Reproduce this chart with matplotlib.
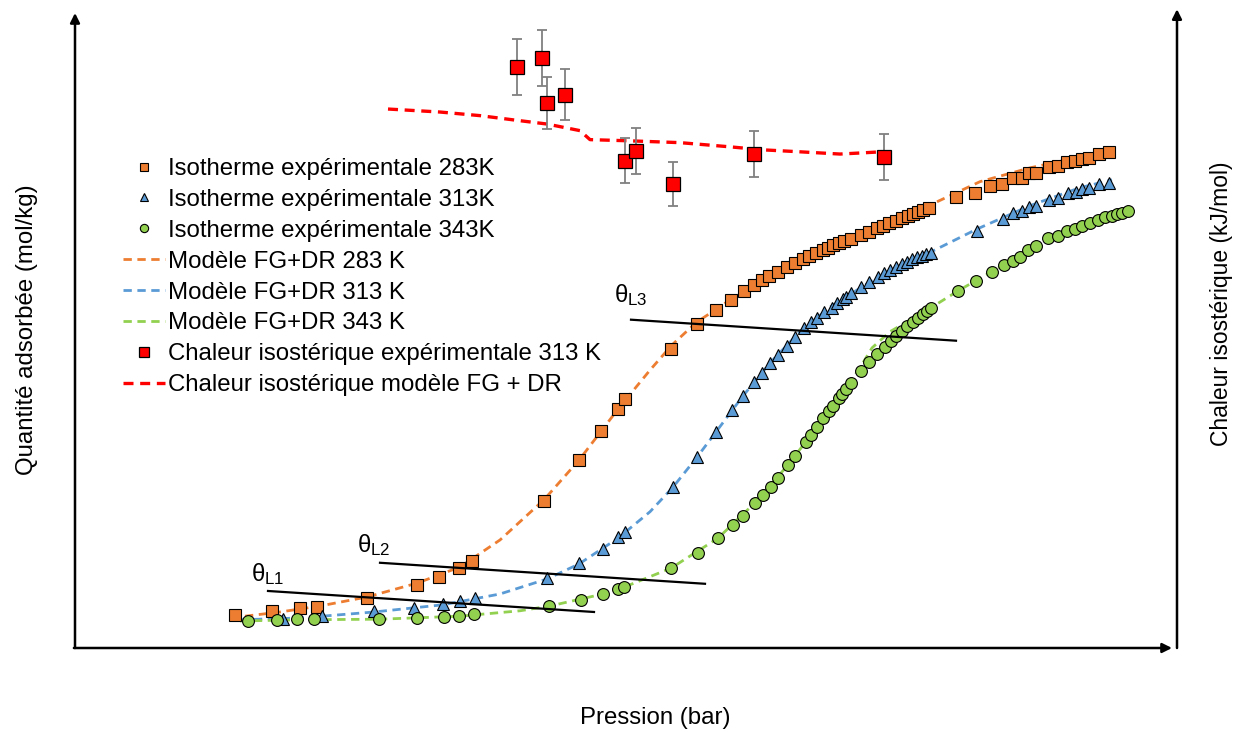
import matplotlib
matplotlib.use('Agg')
import matplotlib.pyplot as plt
from matplotlib.lines import Line2D

plt.rcParams['font.family'] = ['Liberation Sans', 'DejaVu Sans']
plt.rcParams['mathtext.fontset'] = 'custom'
plt.rcParams['mathtext.rm'] = 'Liberation Sans'
plt.rcParams['mathtext.it'] = 'Liberation Sans:italic'

# ---- data (arbitrary units, no tick values shown) ----
# experimental isotherms
p_283 = [16.0, 19.7, 22.5, 24.2, 29.2, 34.2, 36.4, 38.4, 39.7, 46.9, 50.4, 52.6, 54.3, 55.0,
         59.6, 62.2, 64.1, 65.6, 66.9, 67.9, 68.7, 69.4, 70.3, 71.2, 72.0, 72.8, 73.4, 74.1,
         74.8, 75.3, 75.8, 76.4, 76.9, 77.6, 78.6, 79.4, 80.2, 80.8, 81.4, 82.1, 82.7, 83.3,
         83.8, 84.3, 84.8, 85.4, 88.1, 90.0, 91.5, 92.7, 93.8, 94.7, 95.4, 96.1, 97.4, 98.3,
         99.2, 100.0, 100.7, 101.4, 102.4, 103.4]
q_283 = [5.5, 6.2, 6.7, 6.8, 8.3, 10.5, 11.8, 13.3, 14.5, 24.5, 31.3, 36.2, 39.8, 41.5,
         49.8, 54.0, 56.3, 58.0, 59.5, 60.5, 61.3, 62.0, 62.7, 63.5, 64.2, 64.8, 65.3, 65.8,
         66.3, 66.7, 67.2, 67.5, 67.8, 68.2, 68.8, 69.3, 70.0, 70.3, 70.8, 71.2, 71.7, 72.0,
         72.3, 72.7, 73.0, 73.3, 75.2, 75.8, 77.0, 77.3, 78.3, 78.3, 79.2, 79.2, 80.2, 80.3,
         81.0, 81.2, 81.5, 81.7, 82.3, 82.7]

p_313 = [20.8, 24.7, 29.9, 33.9, 36.8, 38.5, 40.0, 47.2, 50.4, 52.8, 54.3, 55.0, 59.8, 62.2,
         64.1, 65.7, 66.8, 67.9, 68.7, 69.5, 70.3, 71.2, 72.0, 72.9, 73.6, 74.2, 74.9, 75.7,
         76.2, 76.8, 77.1, 77.6, 78.6, 79.4, 80.3, 80.9, 81.5, 82.1, 82.7, 83.2, 83.7, 84.2,
         84.7, 85.1, 85.6, 90.2, 92.8, 93.8, 94.7, 95.4, 96.1, 97.4, 98.3, 99.3, 100.1, 100.7,
         101.4, 102.4, 103.4]
q_313 = [4.8, 5.3, 6.2, 6.7, 7.3, 7.8, 8.3, 11.7, 14.2, 16.5, 18.5, 19.3, 26.8, 31.8,
         36.0, 39.7, 42.0, 44.3, 45.8, 47.5, 48.8, 50.3, 51.8, 53.3, 54.3, 55.0, 56.0, 56.7,
         57.5, 58.2, 58.5, 59.2, 60.2, 61.0, 61.8, 62.5, 63.0, 63.5, 64.0, 64.3, 64.8, 65.2,
         65.3, 65.7, 65.8, 69.5, 71.5, 72.5, 72.8, 73.5, 73.7, 74.7, 75.0, 75.8, 76.0, 76.5,
         76.7, 77.3, 77.5]

p_343 = [17.3, 20.2, 22.2, 23.9, 30.4, 34.2, 36.9, 38.4, 39.9, 47.4, 50.6, 52.8, 54.3, 54.9,
         59.6, 62.3, 64.3, 65.8, 66.8, 68.0, 68.8, 69.6, 70.3, 71.3, 72.0, 73.1, 73.6, 74.2,
         74.8, 75.4, 75.8, 76.4, 76.7, 77.1, 77.6, 78.6, 79.4, 80.2, 81.0, 81.6, 82.1, 82.7,
         83.2, 83.8, 84.3, 84.8, 85.2, 85.6, 88.3, 90.1, 91.7, 92.9, 93.8, 94.5, 95.3, 96.1,
         97.3, 98.3, 99.2, 100.0, 100.7, 101.5, 102.3, 103.0, 103.7, 104.2, 104.7, 105.3]
q_343 = [4.5, 4.7, 4.8, 4.8, 4.8, 5.0, 5.2, 5.3, 5.7, 7.0, 8.0, 9.0, 9.8, 10.2,
         13.3, 15.8, 18.3, 20.5, 22.0, 24.2, 25.5, 26.8, 28.3, 30.5, 32.0, 34.3, 35.5, 36.8,
         38.3, 39.5, 40.3, 41.7, 42.3, 43.2, 44.2, 46.2, 47.7, 49.0, 50.2, 51.2, 52.0, 52.8,
         53.7, 54.3, 55.0, 55.7, 56.2, 56.7, 59.5, 61.2, 62.7, 63.8, 64.5, 65.2, 66.3, 67.0,
         68.3, 68.7, 69.5, 69.8, 70.3, 70.8, 71.3, 71.8, 72.0, 72.3, 72.5, 72.8]

# FG+DR model curves
pm_283 = [17.0, 20.5, 24.5, 29.2, 34.2, 38.5, 42.5, 46.9, 50.4, 54.3, 57.5, 59.7, 62.1,
          65.5, 70.5, 75.5, 80.5, 85.5, 90.5, 95.5, 100.5, 103.7]
qm_283 = [5.3, 6.0, 7.0, 8.5, 10.8, 13.5, 18.0, 24.7, 31.3, 39.8, 46.3, 50.5, 54.2,
          58.0, 62.8, 67.0, 70.5, 73.8, 77.7, 80.0, 81.8, 83.0]

pm_313 = [16.5, 22.5, 29.9, 36.8, 42.5, 47.2, 50.4, 54.3, 57.5, 59.8, 62.2, 64.1, 66.8,
          69.5, 72.5, 75.5, 79.5, 85.6, 90.2, 95.5, 100.5, 103.7]
qm_313 = [4.7, 5.0, 6.0, 7.2, 9.0, 11.5, 14.0, 18.3, 22.7, 26.8, 31.8, 36.0, 42.0,
          47.5, 52.7, 56.8, 61.0, 66.0, 69.8, 73.7, 76.7, 78.0]

pm_343 = [16.5, 22.5, 30.5, 38.5, 44.5, 47.5, 52.8, 55.0, 59.6, 64.3, 68.0, 71.3, 74.2,
          76.7, 78.5, 79.7, 81.5, 85.6, 88.3, 92.5, 97.5, 102.5, 105.7]
qm_343 = [4.5, 4.7, 4.8, 5.3, 6.2, 7.0, 9.0, 10.2, 13.3, 18.3, 24.2, 30.5, 36.8,
          42.3, 46.7, 50.0, 52.7, 56.7, 59.5, 63.5, 67.8, 71.3, 73.3]

# isosteric heat (right axis)
p_heat = [44.2, 46.7, 47.2, 49.0, 55.0, 56.1, 59.8, 67.9, 80.9]
h_heat = [96.8, 98.3, 90.8, 92.2, 81.2, 82.8, 77.3, 82.3, 81.8]
h_err = [4.6, 4.7, 4.3, 4.3, 3.8, 3.8, 3.6, 3.8, 3.8]

pm_heat = [31.3, 36.5, 40.5, 43.8, 47.2, 50.5, 51.5, 55.5, 60.5, 65.5, 68.8, 72.2,
           76.5, 78.8, 80.9]
hm_heat = [89.8, 89.3, 88.7, 88.0, 87.3, 86.2, 84.7, 84.5, 84.2, 83.5, 83.0, 82.7,
           82.3, 82.5, 82.7]

# theta_L tangent lines (start / end)
theta_labels = ['L1', 'L2', 'L3']
theta_x = [[19.3, 51.9], [30.5, 63.0], [55.6, 88.1]]
theta_y = [[9.5, 6.0], [14.2, 10.7], [54.7, 51.2]]
theta_txt = [(17.6, 11.2), (28.2, 15.9), (53.9, 57.6)]

C_ORANGE = '#ED7D31'
C_BLUE = '#5B9BD5'
C_GREEN = '#92D050'
C_RED = '#FF0000'
FS = 17.3

fig = plt.figure(figsize=(12.43, 7.32), dpi=100)
W, H = 1243, 732
ax = fig.add_axes([75 / W, 1 - 648 / H, (1177 - 75) / W, (648 - 13) / H])
ax.set_xlim(0, 110.2)
ax.set_ylim(0, 105.8)
ax2 = ax.twinx()
ax2.set_ylim(0, 105.8)
for a in (ax, ax2):
    a.set_xticks([])
    a.set_yticks([])
    for s in a.spines.values():
        s.set_visible(False)

dash = (0, (3, 2))
# model lines under markers
l283, = ax.plot(pm_283, qm_283, color=C_ORANGE, lw=2, ls=dash, zorder=2)
l313, = ax.plot(pm_313, qm_313, color=C_BLUE, lw=2, ls=dash, zorder=2)
l343, = ax.plot(pm_343, qm_343, color=C_GREEN, lw=2, ls=dash, zorder=2)

s283, = ax.plot(p_283, q_283, 's', ms=8.5, mfc=C_ORANGE, mec='black', mew=0.8, zorder=3)
s313, = ax.plot(p_313, q_313, '^', ms=9, mfc=C_BLUE, mec='black', mew=0.8, zorder=3)
s343, = ax.plot(p_343, q_343, 'o', ms=8.5, mfc=C_GREEN, mec='black', mew=0.8, zorder=3)

# tangent lines
for lab, xs, ys, (tx, ty) in zip(theta_labels, theta_x, theta_y, theta_txt):
    ax.plot(xs, ys, color='black', lw=1.6, zorder=4)
    ax.text(tx, ty, r'θ$_{\mathrm{%s}}$' % lab, fontsize=FS, zorder=5)

# isosteric heat
hm, = ax2.plot(pm_heat, hm_heat, color=C_RED, lw=2.4, ls=dash, zorder=2)
ax2.errorbar(p_heat, h_heat, yerr=h_err, fmt='none', ecolor='#808080', elinewidth=1.3,
             capsize=3.5, capthick=1.3, zorder=2)
hs, = ax2.plot(p_heat, h_heat, 's', ms=10.5, mfc=C_RED, mec='black', mew=0.9, zorder=3)

# arrows for axes
arrow = dict(arrowstyle='-|>', color='black', lw=1.8, mutation_scale=14, shrinkA=0, shrinkB=0)
ax.annotate('', xy=(0, 1.0), xytext=(0, 0), xycoords='axes fraction', arrowprops=arrow,
            annotation_clip=False)
ax.annotate('', xy=((1172 - 75) / 1102, 0), xytext=(-0.001, 0), xycoords='axes fraction',
            arrowprops=arrow, annotation_clip=False)
ax.annotate('', xy=(1.0, 1.006), xytext=(1.0, 0), xycoords='axes fraction', arrowprops=arrow,
            annotation_clip=False)

fig.text(0.022, 0.55, 'Quantité adsorbée (mol/kg)', rotation=90, ha='center', va='center',
         fontsize=FS)
fig.text(0.983, 0.585, 'Chaleur isostérique (kJ/mol)', rotation=90, ha='center', va='center',
         fontsize=16.5)
fig.text(0.527, 0.019, 'Pression (bar)', ha='center', va='center', fontsize=FS)

handles = [s283, s313, s343, l283, l313, l343,
           Line2D([], [], ls='none', marker='s', ms=10.5, mfc=C_RED, mec='black', mew=0.9),
           hm]
labels = ['Isotherme expérimentale 283K', 'Isotherme expérimentale 313K',
          'Isotherme expérimentale 343K', 'Modèle FG+DR 283 K', 'Modèle FG+DR 313 K',
          'Modèle FG+DR 343 K', 'Chaleur isostérique expérimentale 313 K',
          'Chaleur isostérique modèle FG + DR']
leg = fig.legend(handles, labels, loc='upper left', bbox_to_anchor=(123 / W, 1 - 158 / H),
                 frameon=False, fontsize=FS, handlelength=1.75, handletextpad=0.12,
                 labelspacing=0.37, markerscale=0.7, borderaxespad=0, borderpad=0)

fig.savefig('out.png', dpi=100)
